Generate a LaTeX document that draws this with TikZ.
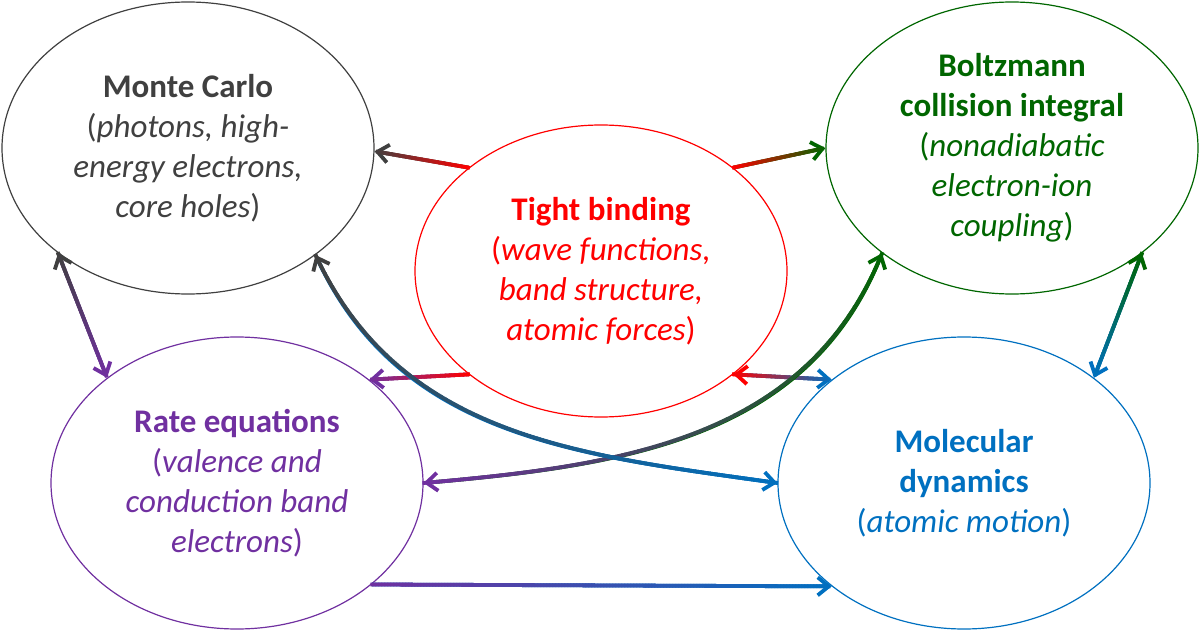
\documentclass[tikz,border=0pt]{standalone}
\usepackage{fontspec}
\setmainfont{Carlito}
\usetikzlibrary{shapes.geometric,arrows.meta,decorations.markings}

\definecolor{mcgray}{HTML}{404040}
\definecolor{tbred}{HTML}{FF0000}
\definecolor{bzgreen}{HTML}{006600}
\definecolor{repurple}{HTML}{7030A0}
\definecolor{mdblue}{HTML}{0070C0}

\tikzset{
  topic/.style={ellipse, draw=#1, text=#1, line width=0.6pt, inner sep=0pt,
    minimum width=186pt, minimum height=146pt, align=center,
    font=\fontsize{16.5}{20}\selectfont},
  grad/.style 2 args={line width=1.9pt, draw=#2,
    postaction={decorate, decoration={markings,
      mark=between positions 0pt and -0.8pt step 0.75pt with {
        \pgfmathtruncatemacro\mixpct{(\pgfkeysvalueof{/pgf/decoration/mark info/distance from start}/\pgfdecoratedpathlength)*100}
        \draw[arrows=-, line width=1.9pt, draw=#2!\mixpct!#1] (-0.6pt,0) -- (0.6pt,0);}}}},
  head/.style={arrows={-{Straight Barb[length=5.5pt,width=9pt]}}},
  heads/.style={arrows={{Straight Barb[length=5.5pt,width=9pt,color=#1]}-{Straight Barb[length=5.5pt,width=9pt]}}},
}

\begin{document}
\begin{tikzpicture}[x=0.5pt,y=-0.5pt]
  \useasboundingbox (0,0) rectangle (1200,631);

  \node[topic=mcgray] (mc) at (188,148)
    {\textbf{Monte Carlo}\\(\textit{photons, high-}\\\textit{energy electrons,}\\\textit{core holes})};
  \node[topic=tbred] (tb) at (601,271)
    {\textbf{Tight binding}\\(\textit{wave functions,}\\\textit{band structure,}\\\textit{atomic forces})};
  \node[topic=bzgreen] (bz) at (1012,148)
    {\textbf{Boltzmann}\\\textbf{collision integral}\\(\textit{nonadiabatic}\\\textit{electron-ion}\\\textit{coupling})};
  \node[topic=repurple] (re) at (237,483)
    {\textbf{Rate equations}\\(\textit{valence and}\\\textit{conduction band}\\\textit{electrons})};
  \node[topic=mdblue] (md) at (964,483)
    {\textbf{Molecular}\\\textbf{dynamics}\\(\textit{atomic motion})};

  % straight links
  \draw[grad={tbred}{mcgray}, head] (tb.142) -- (mc.-1);
  \draw[grad={tbred}{bzgreen}, head] (tb.38) -- (bz.180);
  \draw[grad={tbred}{repurple}, head] (tb.218) -- (re.38);
  \draw[grad={tbred}{mdblue}, heads=tbred] (tb.322) -- (md.142);
  \draw[grad={mcgray}{repurple}, heads=mcgray] (mc.219) -- (re.141);
  \draw[grad={bzgreen}{mdblue}, heads=bzgreen] (bz.321) -- (md.39);
  \draw[grad={repurple}{mdblue}, head] (re.-37) -- (md.218);

  % crossing curves
  \draw[grad={repurple}{bzgreen}, heads=repurple] (re.0) to[out=5, in=-112] (bz.219);
  \draw[grad={mcgray}{mdblue}, heads=mcgray] (mc.-40) to[out=-65, in=172] (md.180);
\end{tikzpicture}
\end{document}
